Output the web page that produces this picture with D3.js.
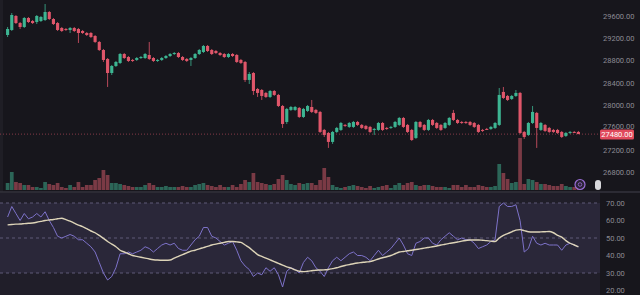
<!DOCTYPE html>
<html>
<head>
<meta charset="utf-8">
<script src="https://cdn.jsdelivr.net/npm/d3@7"></script>
<style>
  html, body { margin: 0; padding: 0; background: #16161b; }
  svg { display: block; }
</style>
</head>
<body>
<svg id="chart"></svg>
<script>
// candles
let opens = [29259,29349,29600,29474,29403,29564,29510,29492,29510,29528,29672,29546,29474,29385,29367,29349,29385,29367,29331,29295,
  29295,29241,29134,28990,28829,28577,28703,28757,28918,28864,28811,28811,28846,28846,28900,28846,28793,28811,28846,28882,
  28918,28936,28864,28829,28811,28846,28918,28954,29062,28990,28972,28936,28918,28864,28918,28900,28811,28775,28452,28577,
  28290,28272,28219,28147,28254,28183,27985,27698,27914,27914,27950,27788,27896,27967,27914,27878,27555,27501,27340,27519,
  27555,27645,27609,27609,27698,27645,27627,27609,27555,27555,27680,27591,27591,27609,27645,27770,27645,27555,27411,27698,
  27645,27555,27734,27680,27645,27591,27645,27860,27734,27698,27698,27698,27680,27645,27555,27573,27573,27591,27645,28237,
  28165,28111,28165,28219,27519,27465,27680,27860,27555,27645,27591,27555,27555,27519,27447,27501,27519,27519]
let highs = [29403,29654,29618,29492,29582,29582,29528,29618,29600,29815,29690,29564,29492,29403,29385,29403,29403,29385,29349,29313,
  29313,29259,29152,29008,28846,28721,28793,28936,28936,28882,28829,28864,28882,28936,29134,28864,28829,28864,28900,28936,
  28954,28954,28882,28846,28864,28936,29008,29080,29080,29008,28990,28954,28936,28936,28936,28918,28829,28793,28595,28595,
  28308,28290,28237,28272,28272,28201,28003,27950,27985,27985,27967,27950,28003,28093,27932,27896,27573,27519,27537,27609,
  27698,27662,27698,27716,27716,27662,27645,27627,27591,27698,27698,27609,27627,27716,27788,27788,27662,27573,27716,27716,
  27662,27752,27752,27698,27662,27698,27788,27914,27752,27716,27716,27716,27698,27662,27573,27591,27627,27698,28308,28326,
  28183,28183,28272,28237,27537,27698,27985,27878,27698,27662,27609,27573,27573,27537,27519,27537,27537,27537]
let lows = [29223,29331,29456,29367,29385,29474,29456,29456,29492,29510,29528,29438,29331,29313,29331,29295,29313,29116,29277,29241,
  29205,29116,28972,28775,28326,28541,28685,28739,28829,28775,28775,28793,28829,28829,28811,28775,28775,28793,28829,28864,
  28900,28846,28793,28775,28703,28829,28900,28936,28954,28900,28918,28882,28846,28846,28864,28757,28739,28416,28380,28183,
  28147,28093,28129,28129,28165,27967,27591,27662,27896,27896,27770,27770,27878,27860,27842,27501,27429,27232,27304,27501,
  27537,27609,27591,27591,27627,27573,27555,27501,27465,27537,27537,27555,27573,27591,27627,27591,27501,27357,27393,27591,
  27537,27537,27627,27573,27537,27573,27627,27716,27662,27662,27662,27627,27591,27501,27519,27555,27555,27573,27627,28111,
  28075,28093,28147,27483,27393,27447,27662,27232,27537,27519,27501,27501,27483,27411,27429,27483,27501,27483]
let closes = [29367,29618,29474,29403,29564,29492,29474,29600,29582,29672,29546,29456,29349,29331,29349,29385,29331,29295,29295,29259,
  29223,29134,28990,28811,28577,28703,28775,28918,28846,28793,28802,28846,28864,28918,28829,28793,28811,28846,28882,28918,
  28936,28864,28811,28793,28846,28918,28990,29062,28972,28918,28936,28900,28864,28918,28882,28775,28757,28452,28559,28254,
  28219,28165,28147,28254,28183,27985,27662,27932,27967,27967,27788,27932,27985,27878,27860,27519,27465,27340,27519,27591,
  27680,27627,27680,27698,27645,27591,27573,27519,27573,27680,27555,27573,27609,27698,27770,27609,27519,27375,27698,27609,
  27555,27734,27645,27591,27555,27680,27770,27734,27680,27680,27680,27645,27609,27519,27537,27564,27609,27680,28183,28129,
  28093,28165,28219,27501,27429,27680,27878,27591,27680,27537,27519,27519,27501,27429,27501,27519,27510,27480]
let volumes = [7,18,8,7,5,5,3,3,2,8,6,5,7,3,2,5,3,8,3,5,
  5,10,12,20,15,7,7,6,5,4,3,3,3,5,7,5,3,3,4,3,
  3,3,4,3,3,5,6,7,5,4,3,5,3,3,5,3,6,10,8,17,
  8,7,6,5,6,11,15,10,6,5,7,6,7,7,5,10,22,13,5,3,
  2,3,4,5,4,3,2,4,2,3,4,5,2,5,7,5,7,8,5,4,
  5,5,4,3,3,3,2,5,5,3,5,3,3,5,4,3,3,4,26,17,
  11,7,8,52,6,11,10,8,6,6,5,4,4,6,4,3,3,3]
let rsi = [62,68,64,60,64,61,62,64,62,65,60,56,51,50,51,52,51,49,49,47,
  45,42,36,30,26,28,33,41,41,42,41,42,43,45,44,42,44,46,47,46,
  47,44,43,43,46,49,51,56,56,51,50,48,46,47,48,43,37,34,32,28,
  30,29,33,31,33,29,22,31,33,32,30,36,39,37,33,31,28,33,37,39,
  37,39,41,42,40,40,39,37,40,43,40,42,44,47,50,46,41,40,47,48,
  50,50,47,46,49,51,53,51,49,50,49,49,47,44,45,46,48,49,68,70,
  68,68,69,60,42,44,51,47,46,47,46,46,46,43,46,47,46,45]
let rsiMa = [57.5,57.7,57.9,58,58.2,58.4,58.6,59,59.5,60,60.3,60.6,61,61.3,60.5,59.6,58.5,57.4,56.5,55.3,
  54,53,51.5,49.8,48,46.5,45,43,42,41,40,39.5,39,38.5,38,37.6,37.4,37.3,37.3,37.4,
  38.5,39.5,40.5,41.5,42.5,43,43.8,44.5,45.2,46,46.5,47,47.5,48,48,47.8,47.5,46,44.5,42.5,
  40.5,39.5,38.5,37.5,36.5,35.5,34.5,33.5,32.8,31.8,31,30.8,31,31.3,31.6,31.7,31.8,32,32.5,33,
  33.7,34.3,34.8,35.3,35.7,36,36.3,36.5,37.2,38,38.7,39.3,40,41,42,42.3,42.7,43,43.4,43.8,
  44.2,44.6,45,45.4,46,46.4,46.9,47.3,47.7,48.2,48.6,48.9,48.9,48.9,48.7,48.5,48.2,48,50,51.5,
  52.5,53.5,54.5,54.8,54.2,53.6,53.4,53.4,53.5,53.6,53.7,53,51.5,50.5,48.5,47,46,45]

let priceTicks = [29600, 29200, 28800, 28400, 28000, 27600, 27200, 26800]
let rsiTicks = [70, 60, 50, 40, 30, 20]
let rsiLevels = [70, 50, 30]
let lastPrice = 27480

var W = 640, H = 295
var plotRight = 600

var svg = d3.select("#chart")
    .attr("width", W)
    .attr("height", H)

svg.append("rect").attr("width", W).attr("height", H).attr("fill", "#17161c")

let idx = d3.range(closes.length)

let scX = d3.scaleBand()
    .domain(idx)
    .range([5, 581])
    .padding(0.25)

let scY = d3.scaleLinear()
    .domain([26800, 29600])
    .range([172, 16])

let scV = d3.scaleLinear()
    .domain([0, d3.max(volumes)])
    .range([190, 138])

let scR = d3.scaleLinear()
    .domain([20, 70])
    .range([290.5, 203])

const up = "#3db592", down = "#e0566a"
let isUp = i => closes[i] >= opens[i]
let cx = i => scX(i) + scX.bandwidth() / 2

// left edge strip
svg.append("rect").attr("x", 0).attr("y", 0).attr("width", 3).attr("height", 192).attr("fill", "#1f1e25")

// RSI pane background
svg.append("rect").attr("x", 0).attr("y", 193).attr("width", plotRight).attr("height", H - 193).attr("fill", "#201e29")
svg.append("rect").attr("x", 0).attr("y", scR(70)).attr("width", plotRight)
    .attr("height", scR(30) - scR(70)).attr("fill", "#2a2739")
svg.append("line").attr("x1", 0).attr("x2", W).attr("y1", 192).attr("y2", 192)
    .attr("stroke", "#34333d").attr("stroke-width", 1.5)

svg.selectAll(".lvl").data(rsiLevels).enter().append("line")
    .attr("class", "lvl")
    .attr("x1", 0).attr("x2", plotRight)
    .attr("y1", d => scR(d)).attr("y2", d => scR(d))
    .attr("stroke", "#5f5a78").attr("stroke-width", 1).attr("stroke-dasharray", "3,3")

// volume
svg.selectAll(".vol").data(volumes).enter().append("rect")
    .attr("class", "vol")
    .attr("x", (d, i) => scX(i) - 0.3)
    .attr("width", scX.bandwidth() + 0.6)
    .attr("y", d => scV(d))
    .attr("height", d => 190 - scV(d))
    .attr("fill", (d, i) => isUp(i) ? "#2c6658" : "#7a3a45")

// last price line
svg.append("line")
    .attr("x1", 0).attr("x2", plotRight)
    .attr("y1", scY(lastPrice)).attr("y2", scY(lastPrice))
    .attr("stroke", "#b4485a").attr("stroke-opacity", 0.7)
    .attr("stroke-dasharray", "1,2")

// candles
let candles = svg.append("g")
candles.selectAll(".wick").data(idx).enter().append("line")
    .attr("class", "wick")
    .attr("x1", cx).attr("x2", cx)
    .attr("y1", i => scY(highs[i])).attr("y2", i => scY(lows[i]))
    .attr("stroke", i => isUp(i) ? up : down).attr("stroke-width", 0.8)
candles.selectAll(".body").data(idx).enter().append("rect")
    .attr("class", "body")
    .attr("x", i => scX(i))
    .attr("width", scX.bandwidth())
    .attr("y", i => scY(Math.max(opens[i], closes[i])))
    .attr("height", i => Math.max(1, Math.abs(scY(opens[i]) - scY(closes[i]))))
    .attr("fill", i => isUp(i) ? up : down)

// RSI lines
let rsiLine = d3.line().x((d, i) => cx(i)).y(d => scR(d))
svg.append("path").datum(rsi)
    .attr("d", rsiLine)
    .attr("fill", "none").attr("stroke", "#7d72c9").attr("stroke-width", 1)
svg.append("path").datum(rsiMa)
    .attr("d", rsiLine.curve(d3.curveMonotoneX))
    .attr("fill", "none").attr("stroke", "#ddd4b8").attr("stroke-width", 1.4)

// axes
let priceAxis = d3.axisRight(scY)
    .tickValues(priceTicks)
    .tickFormat(d3.format(".2f"))
    .tickSize(0)
    .tickPadding(0)
let gp = svg.append("g").attr("transform", "translate(603,0)").call(priceAxis)
let rsiAxis = d3.axisRight(scR)
    .tickValues(rsiTicks)
    .tickFormat(d3.format(".2f"))
    .tickSize(0)
    .tickPadding(0)
let gr = svg.append("g").attr("transform", "translate(606,0)").call(rsiAxis)
for (let g of [gp, gr]) {
  g.select(".domain").remove()
  g.selectAll("text")
      .attr("fill", "#8b8a93")
      .style("font-family", "Roboto, sans-serif")
      .style("font-size", "7.5px")
}
// the 27600 label sits just above the price tag, as in the picture
gp.selectAll(".tick").filter(d => d === 27600).select("text").attr("dy", "0.1em")

// last price tag
let tag = svg.append("g").attr("transform", `translate(600, ${scY(lastPrice)})`)
tag.append("rect").attr("x", 0).attr("y", -4.5).attr("width", 34).attr("height", 10).attr("rx", 1.5).attr("fill", "#e04a5c")
tag.append("text").attr("x", 17).attr("y", 3.2).attr("text-anchor", "middle")
    .attr("fill", "#ffffff").style("font-family", "Roboto, sans-serif").style("font-size", "7.5px")
    .text(d3.format(".2f")(lastPrice))

// small icons at the bottom right of price pane
svg.append("circle").attr("cx", 580).attr("cy", 184.5).attr("r", 5)
    .attr("fill", "#2a2236").attr("stroke", "#9b6fd6").attr("stroke-width", 1.2)
svg.append("circle").attr("cx", 580).attr("cy", 184.5).attr("r", 1.8)
    .attr("fill", "none").attr("stroke", "#9b6fd6").attr("stroke-width", 0.8)
svg.append("rect").attr("x", 595).attr("y", 180).attr("width", 6).attr("height", 10).attr("rx", 3)
    .attr("fill", "#d8d8dc")
</script>
</body>
</html>
